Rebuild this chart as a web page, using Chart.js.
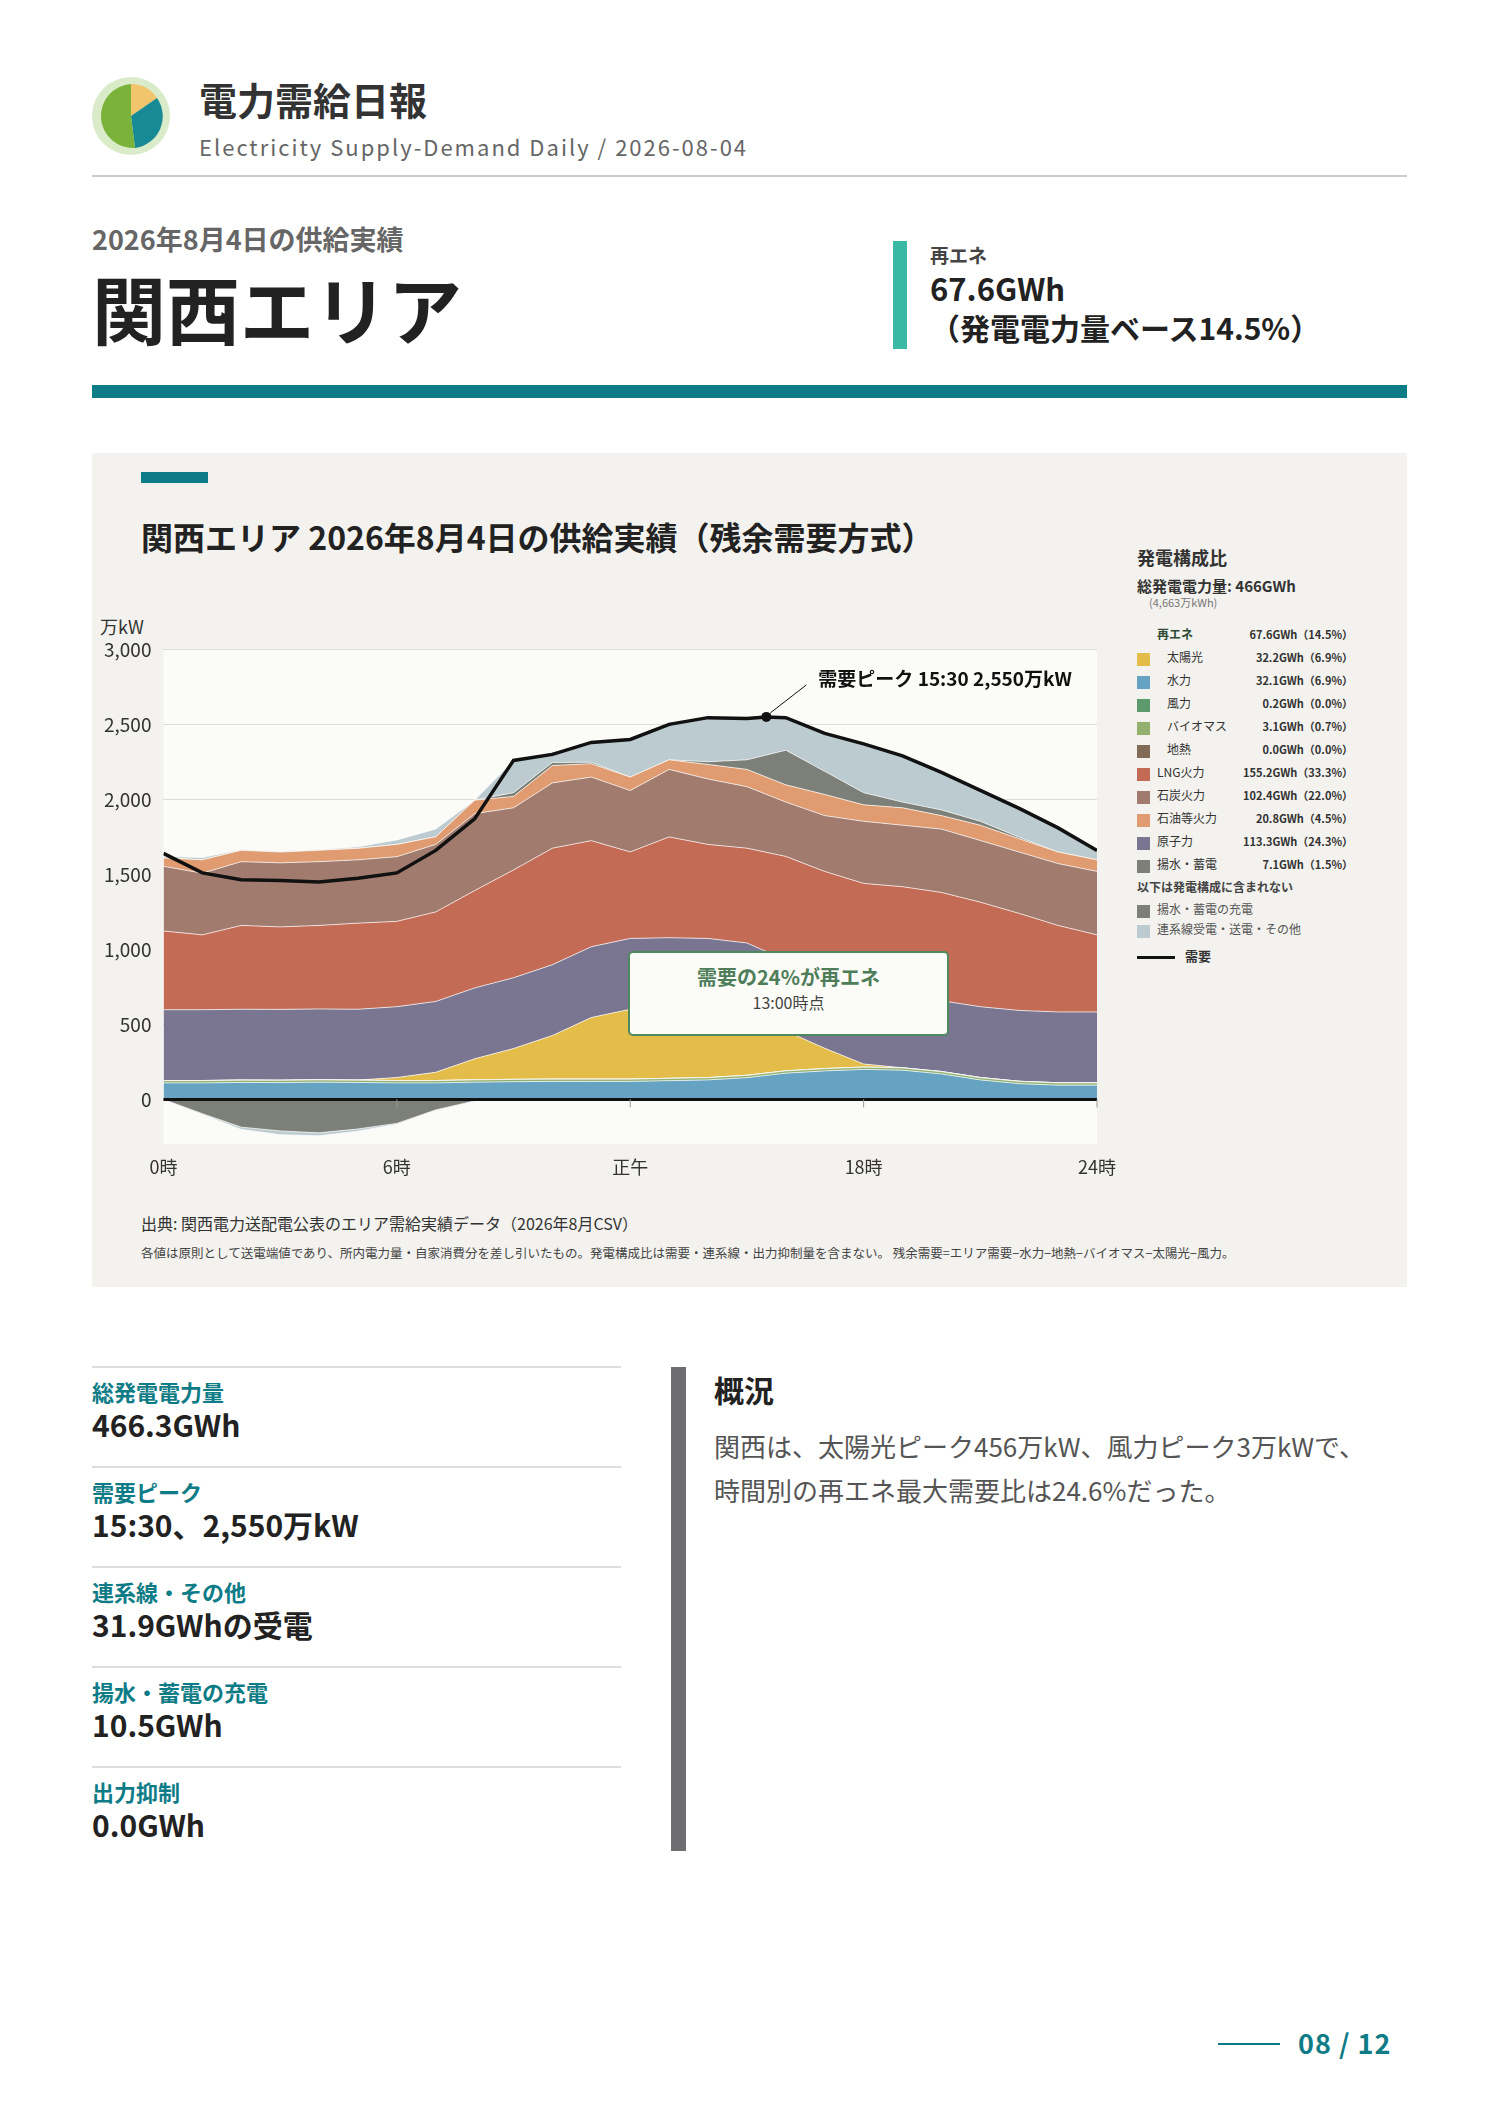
<!DOCTYPE html>
<html lang="ja">
<head>
<meta charset="utf-8">
<script src="https://cdn.jsdelivr.net/npm/chart.js@4.4.1/dist/chart.umd.min.js"></script>
<style>
  body { margin:0; width:1488px; height:2105px; background:#fff; font-family:"Noto Sans CJK JP","Noto Sans",sans-serif; color:#222; position:relative; }
  .abs { position:absolute; line-height:1.2; }
  .b { font-weight:700; }
  #panel { left:92px; top:453px; width:1315px; height:834px; background:#f3f2ee; }
  .leg { font-size:12px; color:#333; }
  .row { position:absolute; left:0; width:216px; height:18px; }
  .row .sw { position:absolute; left:0; top:3px; width:13px; height:13px; }
  .row .nm { position:absolute; left:20px; top:0; }
  .row .vl { position:absolute; right:0; top:1px; font-size:11px; font-weight:700; }
  .stat { position:absolute; left:92px; width:529px; border-top:2px solid #ddd; height:100px; }
  .stat .l { position:absolute; top:10px; color:#0e7c86; font-weight:700; font-size:22px; line-height:1.2; }
  .stat .v { position:absolute; top:38px; font-weight:700; font-size:30px; line-height:1.2; }
</style>
</head>
<body>
<svg class="abs" style="left:91px;top:76px" width="80" height="80" viewBox="0 0 80 80">
  <circle cx="40" cy="40" r="39" fill="#d9ebc8"/>
  <path d="M40 40 L40 8 A32 32 0 0 1 66 22 Z" fill="#f2c46b"/>
  <path d="M40 40 L66 22 A32 32 0 0 1 44 72 Z" fill="#178a95"/>
  <path d="M40 40 L44 72 A32 32 0 0 1 40 8 Z" fill="#7bb23a"/>
</svg>
<div class="abs b" style="left:199px;top:76px;font-size:38px;color:#333">電力需給日報</div>
<div class="abs" style="left:199px;top:133px;font-size:22px;color:#666;letter-spacing:2px">Electricity Supply-Demand Daily / 2026-08-04</div>
<div class="abs" style="left:92px;top:175px;width:1315px;height:2px;background:#ccc"></div>
<div class="abs b" style="left:92px;top:223px;font-size:27px;color:#666">2026年8月4日の供給実績</div>
<div class="abs b" style="left:92px;top:270px;font-size:74px;color:#222;line-height:1">関西エリア</div>
<div class="abs" style="left:893px;top:241px;width:14px;height:108px;background:#3bb8a6"></div>
<div class="abs b" style="left:930px;top:244px;font-size:19px;color:#444">再エネ</div>
<div class="abs b" style="left:930px;top:271px;font-size:31px;color:#222;line-height:1.1">67.6GWh</div>
<div class="abs b" style="left:930px;top:311px;font-size:30px;color:#222;line-height:1.1">（発電電力量ベース14.5%）</div>
<div class="abs" style="left:92px;top:385px;width:1315px;height:13px;background:#0e7c86"></div>

<div id="panel" class="abs"></div>
<div class="abs" style="left:141px;top:472px;width:67px;height:11px;background:#0e7c86"></div>
<div class="abs b" style="left:141px;top:517px;font-size:32px;color:#222">関西エリア 2026年8月4日の供給実績（残余需要方式）</div>
<div class="abs" style="left:100px;top:616px;font-size:18px;color:#333">万kW</div>
<canvas id="c" class="abs" style="left:92px;top:626px" width="1040" height="556"></canvas>

<div class="abs leg" style="left:1137px;top:545px;width:216px;height:420px">
  <div class="abs b" style="left:0;top:2px;font-size:18px;color:#333">発電構成比</div>
  <div class="abs b" style="left:0;top:32px;font-size:15px;color:#333;white-space:nowrap">総発電電力量: 466GWh</div>
  <div class="abs" style="left:12px;top:51px;font-size:11px;color:#777">(4,663万kWh)</div>
  <div id="rows"></div>
  <div class="abs b" style="left:0;top:335px;font-size:12px;color:#444;white-space:nowrap">以下は発電構成に含まれない</div>
  <div class="row" style="top:357px"><div class="sw" style="background:#7c8078"></div><div class="nm" style="color:#555">揚水・蓄電の充電</div></div>
  <div class="row" style="top:377px"><div class="sw" style="background:#bccbd0"></div><div class="nm" style="color:#555">連系線受電・送電・その他</div></div>
  <div class="abs" style="left:0;top:411px;width:38px;height:3px;background:#111"></div>
  <div class="abs b" style="left:48px;top:403px;font-size:13px">需要</div>
</div>

<div class="abs" style="left:628px;top:951px;width:317px;height:81px;background:#fbfbf7;border:2px solid #4e8a5e;border-radius:5px;text-align:center">
  <div class="b" style="margin-top:12px;font-size:20px;color:#4e7d5a">需要の24%が再エネ</div>
  <div style="margin-top:4px;font-size:16px;color:#444">13:00時点</div>
</div>

<div class="abs" style="left:141px;top:1214px;font-size:16px;color:#333">出典: 関西電力送配電公表のエリア需給実績データ（2026年8月CSV）</div>
<div class="abs" style="left:141px;top:1245px;font-size:12.5px;color:#444;white-space:nowrap">各値は原則として送電端値であり、所内電力量・自家消費分を差し引いたもの。発電構成比は需要・連系線・出力抑制量を含まない。 残余需要=エリア需要−水力−地熱−バイオマス−太陽光−風力。</div>

<div class="stat" style="top:1366px"><div class="l">総発電電力量</div><div class="v">466.3GWh</div></div>
<div class="stat" style="top:1466px"><div class="l">需要ピーク</div><div class="v">15:30、2,550万kW</div></div>
<div class="stat" style="top:1566px"><div class="l">連系線・その他</div><div class="v">31.9GWhの受電</div></div>
<div class="stat" style="top:1666px"><div class="l">揚水・蓄電の充電</div><div class="v">10.5GWh</div></div>
<div class="stat" style="top:1766px"><div class="l">出力抑制</div><div class="v">0.0GWh</div></div>

<div class="abs" style="left:671px;top:1367px;width:15px;height:484px;background:#6d6d72"></div>
<div class="abs b" style="left:714px;top:1371px;font-size:30px">概況</div>
<div class="abs" style="left:714px;top:1424px;font-size:26px;color:#555;line-height:44px">関西は、太陽光ピーク456万kW、風力ピーク3万kWで、<br>時間別の再エネ最大需要比は24.6%だった。</div>

<div class="abs" style="left:1218px;top:2043px;width:62px;height:2px;background:#0e7c86"></div>
<div class="abs b" style="left:1298px;top:2027px;font-size:27px;color:#0e7c86;letter-spacing:1px">08 / 12</div>

<script>
const hours = [0,1,2,3,4,5,6,7,8,9,10,11,12,13,14,15,16,17,18,19,20,21,22,23,24];
const hydro = [110,110,113,112,115,113,110,110,115,118,120,120,120,125,130,145,175,190,200,195,170,130,105,95,95];
const biomass = [15,15,15,15,15,15,15,15,15,15,15,15,15,15,15,15,15,15,15,15,15,15,15,15,15];
const wind = [1,1,1,1,1,1,1,1,1,1,1,1,1,1,1,1,1,1,1,1,1,1,1,1,1];
const geo = [0,0,0,0,0,0,0,0,0,0,0,0,0,0,0,0,0,0,0,0,0,0,0,0,0];
const solar = [0,0,0,0,0,0,20,55,140,205,290,410,465,465,455,410,265,135,20,0,0,0,0,0,0];
const nuclear = [472,472,472,472,472,472,472,472,472,472,472,472,472,472,472,472,472,472,472,472,472,472,472,472,472];
const lng = [525,499,559,550,557,574,569,597,649,719,777,707,577,672,627,632,692,707,732,735,722,697,647,577,514];
const coal = [431,411,425,427,425,422,431,450,513,414,435,424,409,450,436,410,362,372,414,410,422,411,409,412,423];
const oil = [56,89,76,72,76,77,82,51,90,76,116,89,90,64,97,115,115,141,110,116,90,102,89,77,77];
const pumpedGen = [0,0,0,0,0,0,0,0,0,25,20,10,0,0,18,64,231,154,81,38,38,26,10,0,0];
const interPos = [10,15,5,5,5,10,30,51,0,215,70,130,250,245,294,276,217,253,325,308,250,206,192,161,63];
const charging = [0,-95,-185,-210,-223,-197,-160,-70,-10,0,0,0,0,0,0,0,0,0,0,0,0,0,0,0,0];
const interNeg = [0,-5,-15,-25,-20,-15,-5,0,0,0,0,0,0,0,0,0,0,0,0,0,0,0,0,0,0];
const demand = [1640,1510,1465,1460,1450,1475,1510,1660,1870,2260,2300,2380,2400,2500,2545,2540,2545,2440,2370,2290,2180,2060,1940,1810,1660];
const xTickLabels = {0:"0時",6:"6時",12:"正午",18:"18時",24:"24時"};

const legendRows = [
  ["再エネ", null, "67.6GWh（14.5%）", true],
  ["太陽光", "#e3bc4a", "32.2GWh（6.9%）"],
  ["水力", "#66a3c2", "32.1GWh（6.9%）"],
  ["風力", "#5c9a6e", "0.2GWh（0.0%）"],
  ["バイオマス", "#93b06e", "3.1GWh（0.7%）"],
  ["地熱", "#826b55", "0.0GWh（0.0%）"],
  ["LNG火力", "#c46b55", "155.2GWh（33.3%）"],
  ["石炭火力", "#a07b6e", "102.4GWh（22.0%）"],
  ["石油等火力", "#e09c70", "20.8GWh（4.5%）"],
  ["原子力", "#7a7591", "113.3GWh（24.3%）"],
  ["揚水・蓄電", "#7c8078", "7.1GWh（1.5%）"]
];
const rows = document.getElementById("rows");
legendRows.forEach((r, i) => {
  const d = document.createElement("div");
  d.className = "row";
  d.style.top = (82 + i * 23) + "px";
  const indent = (i >= 1 && i <= 5) ? 30 : 20;
  d.innerHTML = (r[1] ? `<div class="sw" style="background:${r[1]}"></div>` : "") +
    `<div class="nm" style="left:${i === 0 ? 20 : indent}px;${r[3] ? 'font-weight:700;color:#2d4a33' : ''}">${r[0]}</div><div class="vl">${r[2]}</div>`;
  rows.appendChild(d);
});

const pts = arr => arr.map((v, i) => ({x: hours[i], y: v}));
const area = (label, data, color, stack, fill) => ({
  label, data: pts(data), backgroundColor: color, borderColor: "rgba(255,255,255,0.7)",
  borderWidth: 1, pointRadius: 0, fill, stack, tension: 0
});

const plotBg = {
  id: "plotBg",
  beforeDraw(chart) {
    const {ctx, chartArea: a} = chart;
    ctx.save();
    ctx.fillStyle = "#fbfbf7";
    ctx.fillRect(a.left, a.top, a.right - a.left, a.bottom - a.top);
    ctx.restore();
  },
  afterDatasetsDraw(chart) {
    const {ctx, chartArea: a, scales: {x, y}} = chart;
    ctx.save();
    const y0 = y.getPixelForValue(0);
    ctx.strokeStyle = "#111"; ctx.lineWidth = 3;
    ctx.beginPath(); ctx.moveTo(a.left, y0); ctx.lineTo(a.right, y0); ctx.stroke();
    ctx.strokeStyle = "#999"; ctx.lineWidth = 1;
    [6, 12, 18, 24].forEach(h => {
      const px = x.getPixelForValue(h);
      ctx.beginPath(); ctx.moveTo(px, y0); ctx.lineTo(px, y0 + 8); ctx.stroke();
    });
    // demand peak marker
    const px = x.getPixelForValue(15.5), py = y.getPixelForValue(2550);
    ctx.fillStyle = "#111";
    ctx.beginPath(); ctx.arc(px, py, 5, 0, Math.PI * 2); ctx.fill();
    ctx.strokeStyle = "#111"; ctx.lineWidth = 1;
    ctx.beginPath(); ctx.moveTo(px + 4, py - 4); ctx.lineTo(px + 40, py - 32); ctx.stroke();
    ctx.font = "bold 19px 'Noto Sans CJK JP'";
    ctx.textAlign = "left"; ctx.textBaseline = "middle";
    ctx.fillText("需要ピーク 15:30 2,550万kW", px + 52, py - 38);
    ctx.restore();
  }
};

const demandPts = pts(demand);
demandPts.splice(16, 0, {x: 15.5, y: 2550});

new Chart(document.getElementById("c"), {
  type: "line",
  data: {
    datasets: [
      area("揚水・蓄電の充電", charging, "#7c8078", "neg", "origin"),
      area("連系線送電", interNeg, "#bccbd0", "neg", "-1"),
      area("水力", hydro, "#66a3c2", "pos", "origin"),
      area("バイオマス", biomass, "#93b06e", "pos", "-1"),
      area("風力", wind, "#5c9a6e", "pos", "-1"),
      area("地熱", geo, "#826b55", "pos", "-1"),
      area("太陽光", solar, "#e3bc4a", "pos", "-1"),
      area("原子力", nuclear, "#7a7591", "pos", "-1"),
      area("LNG火力", lng, "#c46b55", "pos", "-1"),
      area("石炭火力", coal, "#a07b6e", "pos", "-1"),
      area("石油等火力", oil, "#e09c70", "pos", "-1"),
      area("揚水・蓄電", pumpedGen, "#7c8078", "pos", "-1"),
      area("連系線受電・その他", interPos, "#bccbd0", "pos", "-1"),
      {label: "需要", data: demandPts, borderColor: "#111", borderWidth: 3.5, pointRadius: 0,
       fill: false, stack: "demand", tension: 0, order: -1}
    ]
  },
  options: {
    responsive: false,
    animation: false,
    layout: {padding: {left: 0, right: 35, top: 6, bottom: 0}},
    plugins: {legend: {display: false}, tooltip: {enabled: false}},
    scales: {
      x: {
        type: "linear", min: 0, max: 24,
        grid: {display: false}, border: {display: false},
        afterBuildTicks: s => { s.ticks = [0, 6, 12, 18, 24].map(v => ({value: v})); },
        ticks: {callback: v => xTickLabels[v], color: "#333", font: {size: 18, family: "Noto Sans CJK JP"}, padding: 4}
      },
      y: {
        stacked: true, min: -300, max: 3000,
        afterBuildTicks: s => { s.ticks = [0, 500, 1000, 1500, 2000, 2500, 3000].map(v => ({value: v})); },
        grid: {color: "#dedcd6", drawTicks: false}, border: {display: false},
        ticks: {callback: v => v.toLocaleString("en-US"), color: "#333", font: {size: 19, family: "Noto Sans CJK JP"}, padding: 12}
      }
    }
  },
  plugins: [plotBg]
});
</script>
</body>
</html>
